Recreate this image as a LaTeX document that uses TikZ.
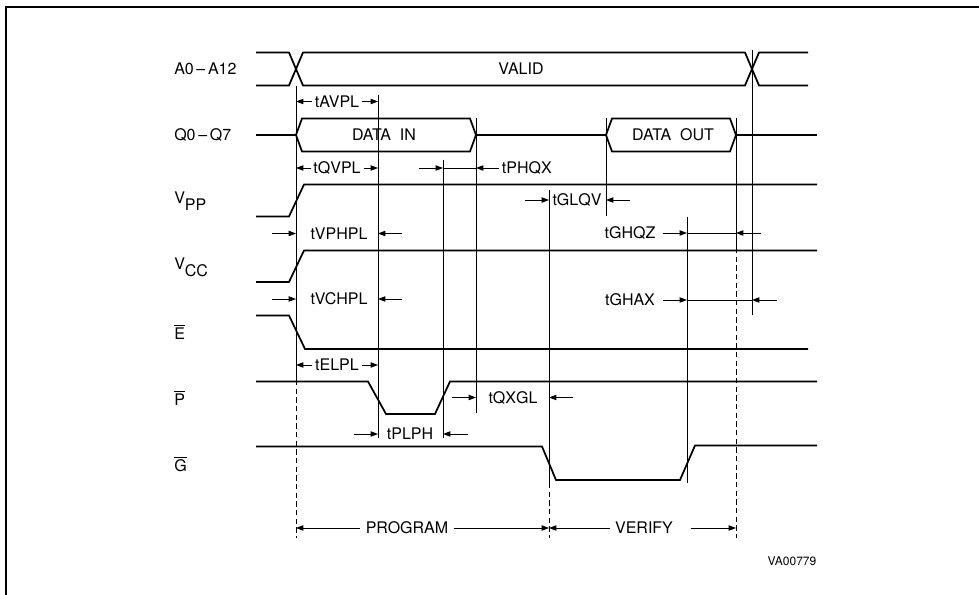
\documentclass[tikz,border=0pt]{standalone}
\usepackage{fontspec}
\setmainfont{TeX Gyre Heros}
\usetikzlibrary{arrows.meta}
\begin{document}
\begin{tikzpicture}[x=0.75pt,y=-0.75pt,
  font=\fontsize{12}{14}\selectfont,
  sig/.style={line width=1.3pt,line join=miter},
  refl/.style={line width=0.6pt},
  dsh/.style={line width=0.6pt,dash pattern=on 4pt off 2.5pt},
  dim/.style={line width=0.6pt,-{Triangle[length=5.5pt,width=4pt]}},
  lbl/.style={anchor=west,inner sep=0pt},
  tl/.style={inner sep=2pt}]
\useasboundingbox (0,0) rectangle (979,595);
% frame
\draw[line width=1.1pt] (6,595) -- (6,7) -- (979,7);

% signal labels
\node[lbl] (lA) at (174,69) {A0\,--\,A12};
\node[lbl] (lQ) at (174,135) {Q0\,--\,Q7};
\node[lbl] (lVPP) at (174,201) {V\raisebox{-5pt}{PP}};
\node[lbl] (lVCC) at (174,267) {V\raisebox{-5pt}{CC}};
\node[lbl] (lE) at (174,332) {$\overline{\hbox{E}}$};
\node[lbl] (lP) at (174,398) {$\overline{\hbox{P}}$};
\node[lbl] (lG) at (174,464) {$\overline{\hbox{G}}$};

% A0-A12
\draw[sig] (256,52.5) -- (289,52.5) -- (303,85.5) -- (745,85.5) -- (759,52.5) -- (808,52.5);
\draw[sig] (256,85.5) -- (289,85.5) -- (303,52.5) -- (745,52.5) -- (759,85.5) -- (808,85.5);
\node (valid) at (521,69) {VALID};

% Q0-Q7
\draw[sig] (256,135) -- (296,135);
\draw[sig] (296,135) -- (302,118.5) -- (470,118.5) -- (476,135) -- (470,151.5) -- (302,151.5) -- cycle;
\draw[sig] (476,135) -- (606,135);
\draw[sig] (606,135) -- (612,118.5) -- (730,118.5) -- (736,135) -- (730,151.5) -- (612,151.5) -- cycle;
\draw[sig] (736,135) -- (817,135);
\node (din) at (384,135) {DATA\ \ IN};
\node (dout) at (673,135) {DATA\ \ OUT};

% VPP, VCC, E, P, G
\draw[sig] (256,216.5) -- (289,216.5) -- (304,184.5) -- (817,184.5);
\draw[sig] (256,282) -- (289,282) -- (304,250.5) -- (817,250.5);
\draw[sig] (256,315.5) -- (289,315.5) -- (305,349) -- (808,349);
\draw[sig] (256,381.5) -- (368,381.5) -- (386,414) -- (435,414) -- (450,381.5) -- (817,381.5);
\draw[sig] (256,446.5) -- (542,446.5) -- (556,480) -- (680,480) -- (695,445.5) -- (817,445.5);

% reference lines
\draw[refl] (296,86) -- (296,380);
\draw[dsh] (296,380) -- (296,538);
\draw[refl] (378,95) -- (378,438);
\draw[refl] (443,160) -- (443,438);
\draw[refl] (476,118) -- (476,413);
\draw[refl] (549,190) -- (549,483);
\draw[dsh] (549,483) -- (549,538);
\draw[refl] (606,118) -- (606,216);
\draw[refl] (687,217) -- (687,483);
\draw[refl] (736,118) -- (736,248);
\draw[dsh] (736,248) -- (736,538);
\draw[refl] (752,50) -- (752,315);

% tAVPL
\node[tl] (tavpl) at (337,101.5) {tAVPL};
\draw[dim] (tavpl.west) -- (296,101.5);
\draw[dim] (tavpl.east) -- (378,101.5);
% tQVPL
\node[tl] (tqvpl) at (337,168) {tQVPL};
\draw[dim] (tqvpl.west) -- (296,168);
\draw[dim] (tqvpl.east) -- (378,168);
% tPHQX
\node[tl,anchor=west] (tphqx) at (499,168) {tPHQX};
\draw[dim] (419,168) -- (443,168);
\draw[refl] (443,168) -- (476,168);
\draw[dim] (tphqx.west) -- (476,168);
% tGLQV
\node[tl] (tglqv) at (577,200) {tGLQV};
\draw[dim] (525,200) -- (549,200);
\draw[dim] (630,200) -- (606,200);
% tVPHPL
\node[tl] (tvphpl) at (339,233.5) {tVPHPL};
\draw[dim] (272,233.5) -- (296,233.5);
\draw[dim] (402,233.5) -- (378,233.5);
% tGHQZ
\node[tl] (tghqz) at (630,233) {tGHQZ};
\draw[dim] (663,233) -- (687,233);
\draw[refl] (687,233) -- (736,233);
\draw[dim] (761,233) -- (736,233);
% tVCHPL
\node[tl] (tvchpl) at (339,299) {tVCHPL};
\draw[dim] (272,299) -- (296,299);
\draw[dim] (402,299) -- (378,299);
% tGHAX
\node[tl] (tghax) at (630,300) {tGHAX};
\draw[dim] (663,300) -- (687,300);
\draw[refl] (687,300) -- (752,300);
\draw[dim] (777,300) -- (752,300);
% tELPL
\node[tl] (telpl) at (337,365) {tELPL};
\draw[dim] (telpl.west) -- (296,365);
\draw[dim] (telpl.east) -- (378,365);
% tQXGL
\node[tl] (tqxgl) at (513,397.5) {tQXGL};
\draw[dim] (452,397.5) -- (476,397.5);
\draw[dim] (573,397.5) -- (549,397.5);
% tPLPH
\node[tl] (tplph) at (410,434) {tPLPH};
\draw[dim] (354,434) -- (378,434);
\draw[dim] (468,434) -- (443,434);

% PROGRAM / VERIFY
\node[inner sep=4pt] (prog) at (407,528) {PROGRAM};
\draw[dim] (prog.west) -- (296,528);
\draw[dim] (prog.east) -- (549,528);
\node[inner sep=4pt] (ver) at (644,528) {VERIFY};
\draw[dim] (ver.west) -- (549,528);
\draw[dim] (ver.east) ++(12,0) -- (736,528);

\node[font=\fontsize{9}{10}\selectfont] (va) at (792,561) {VA00779};
\end{tikzpicture}
\end{document}
